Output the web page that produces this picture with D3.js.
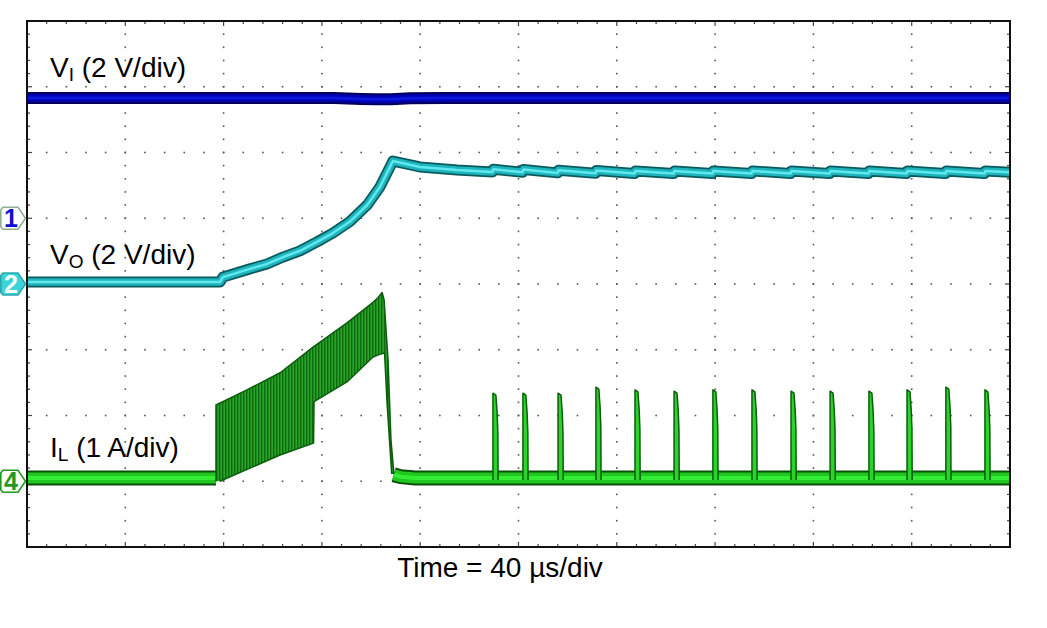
<!DOCTYPE html>
<html>
<head>
<meta charset="utf-8">
<script src="https://cdn.jsdelivr.net/npm/d3@7"></script>
<style>
  html, body { margin: 0; padding: 0; background: #fff; }
  svg { display: block; font-family: "Liberation Sans", Arial, sans-serif; }
</style>
</head>
<body>
<svg id="chart" width="1047" height="628"></svg>
<script>
// ---------------- DATA ----------------
// time axis (µs), 40 µs/div, 10 divisions
const timeMajorTicks = [0, 40, 80, 120, 160, 200, 240, 280, 320, 360, 400];
const divMajorTicks = [0, 1, 2, 3, 4, 5, 6, 7, 8];

// Channel 1: V_I (V), 2 V/div, ground at division 5
const viSeries = [[0, 3.66], [125, 3.66], [136, 3.63], [142, 3.62], [148, 3.62], [156, 3.65], [170, 3.66], [400, 3.66]];

// Channel 2: V_O (V), 2 V/div, ground at division 4
const voSeries = [
  [0, 0.06], [78.5, 0.06], [79.8, 0.21], [90.7, 0.46], [97.7, 0.61], [104.2, 0.82],
  [111.1, 1.01], [118.0, 1.28], [124.5, 1.55], [131.4, 1.90], [138.4, 2.40],
  [143.6, 2.95], [147.7, 3.56], [148.9, 3.74], [159.9, 3.56], [175, 3.47],
  [189.4, 3.41], [189.8, 3.49], [201.6, 3.40], [202.0, 3.48], [215.9, 3.38], [216.3, 3.46],
  [231.3, 3.37], [231.7, 3.45], [247.2, 3.36], [247.6, 3.44], [263.1, 3.36], [263.5, 3.44],
  [278.9, 3.36], [279.3, 3.44], [294.8, 3.36], [295.2, 3.44], [310.7, 3.36], [311.1, 3.44],
  [326.6, 3.36], [327.0, 3.44], [342.4, 3.36], [342.8, 3.44], [357.9, 3.36], [358.3, 3.44],
  [373.7, 3.36], [374.1, 3.44], [389.6, 3.36], [390.0, 3.44], [400, 3.40]
];

// Channel 4: I_L (A), 1 A/div, ground at division 1
const ilBaseBefore = [[0, 0.05], [76.9, 0.05]];
const ilBaseAfter = [[149.2, 0.10], [152, 0.07], [158, 0.05], [400, 0.05]];
// switching envelope (upper edge left->right)
const ilUpper = [[76.9, 0.0], [76.9, 1.16], [89.5, 1.39], [103.0, 1.65], [116.4, 2.04], [130.2, 2.41],
  [140.8, 2.72], [142.8, 2.79], [144.5, 2.87], [145.3, 2.76], [146.9, 1.85], [148.1, 0.63], [149.3, 0.12]];
// switching envelope (lower edge right->left)
const ilLower = [[148.4, 0.12], [146.5, 1.20], [145.5, 1.95], [143.5, 1.93], [140.8, 1.89], [130.2, 1.51],
  [116.8, 1.21], [116.6, 0.58], [103.0, 0.40], [78.5, 0.0]];
// periodic inductor-current pulses after start-up: start time (µs), peak (A)
const ilPulseTimes = [189.6, 201.8, 216.1, 231.5, 247.4, 263.3, 279.1, 295.0, 310.9, 326.8, 342.6, 358.1, 373.9, 389.8];
const ilPulsePeaks = [1.34, 1.34, 1.34, 1.43, 1.39, 1.37, 1.39, 1.39, 1.37, 1.37, 1.37, 1.39, 1.43, 1.39];

// texts
const traceLabels = [
  { main: "V", sub: "I", rest: " (2 V/div)", ch: 1, val: 4.3 },
  { main: "V", sub: "O", rest: " (2 V/div)", ch: 2, val: 0.61 },
  { main: "I", sub: "L", rest: " (1 A/div)", ch: 4, val: 0.37 }
];
const xAxisTitle = "Time = 40 µs/div";
const channelMarkers = [{ ch: 1, label: "1" }, { ch: 2, label: "2" }, { ch: 4, label: "4" }];

// ---------------- LAYOUT ----------------
const plot = { left: 27, right: 1010, top: 21, bottom: 547 };
const svg = d3.select("#chart");

const x = d3.scaleLinear().domain([0, 400]).range([plot.left, plot.right]);
const yDiv = d3.scaleLinear().domain([0, 8]).range([plot.bottom, plot.top]);
// channel scales (value -> px)
const yCh = {
  1: d3.scaleLinear().domain([-10, 6]).range([plot.bottom, plot.top]),
  2: d3.scaleLinear().domain([-8, 8]).range([plot.bottom, plot.top]),
  4: d3.scaleLinear().domain([-1, 7]).range([plot.bottom, plot.top])
};

// ---------------- GRID ----------------
const grid = svg.append("g");
const minorX = d3.range(0, 400.001, 8);
const minorY = d3.range(0, 8.001, 0.2);
const dotColor = "#555";
timeMajorTicks.slice(1, -1).forEach(t => {
  grid.selectAll(null).data(minorY.slice(1, -1)).enter().append("rect")
    .attr("x", x(t) - 0.8).attr("y", d => yDiv(d) - 0.8)
    .attr("width", 1.6).attr("height", 1.6).attr("fill", dotColor);
});
divMajorTicks.slice(1, -1).forEach(dv => {
  grid.selectAll(null).data(minorX.slice(1, -1)).enter().append("rect")
    .attr("x", d => x(d) - 0.8).attr("y", yDiv(dv) - 0.8)
    .attr("width", 1.6).attr("height", 1.6).attr("fill", dotColor);
});
const isMajorX = d => Math.abs(d / 40 - Math.round(d / 40)) < 1e-6;
const isMajorY = d => Math.abs(d - Math.round(d)) < 1e-6;
grid.selectAll(null).data(minorX.slice(1, -1)).enter().append("line")
  .attr("x1", d => x(d)).attr("x2", d => x(d))
  .attr("y1", plot.top).attr("y2", d => plot.top + (isMajorX(d) ? 5 : 3))
  .attr("stroke", "#444").attr("stroke-width", 1.2);
grid.selectAll(null).data(minorX.slice(1, -1)).enter().append("line")
  .attr("x1", d => x(d)).attr("x2", d => x(d))
  .attr("y1", plot.bottom).attr("y2", d => plot.bottom - (isMajorX(d) ? 5 : 3))
  .attr("stroke", "#444").attr("stroke-width", 1.2);
grid.selectAll(null).data(minorY.slice(1, -1)).enter().append("line")
  .attr("y1", d => yDiv(d)).attr("y2", d => yDiv(d))
  .attr("x1", plot.left).attr("x2", d => plot.left + (isMajorY(d) ? 5 : 3))
  .attr("stroke", "#444").attr("stroke-width", 1.2);
grid.selectAll(null).data(minorY.slice(1, -1)).enter().append("line")
  .attr("y1", d => yDiv(d)).attr("y2", d => yDiv(d))
  .attr("x1", plot.right).attr("x2", d => plot.right - (isMajorY(d) ? 5 : 3))
  .attr("stroke", "#444").attr("stroke-width", 1.2);

// ---------------- TRACES ----------------
const defs = svg.append("defs");
const pat = defs.append("pattern").attr("id", "ripple").attr("patternUnits", "userSpaceOnUse")
  .attr("width", 3).attr("height", 10);
pat.append("rect").attr("width", 3).attr("height", 10).attr("fill", "#1a8e1a");
pat.append("rect").attr("x", 0).attr("width", 1).attr("height", 10).attr("fill", "#0f6a0f");
pat.append("rect").attr("x", 2).attr("width", 0.6).attr("height", 10).attr("fill", "#35b035");

const clip = defs.append("clipPath").attr("id", "plotclip");
clip.append("rect").attr("x", plot.left).attr("y", plot.top)
  .attr("width", plot.right - plot.left).attr("height", plot.bottom - plot.top);

const traces = svg.append("g").attr("clip-path", "url(#plotclip)");

function lineFor(ch) {
  return d3.line().x(d => x(d[0])).y(d => yCh[ch](d[1]));
}
function band(data, ch, layers) {
  const gen = lineFor(ch);
  layers.forEach(([color, w]) => {
    traces.append("path").datum(data).attr("d", gen)
      .attr("fill", "none").attr("stroke", color).attr("stroke-width", w)
      .attr("stroke-linejoin", "round").attr("stroke-linecap", "butt");
  });
}

// V_I
band(viSeries, 1, [["#000058", 12], ["#0000b0", 8], ["#0a16dc", 3]]);
// V_O
band(voSeries, 2, [["#0b5a5e", 11], ["#1fb3bb", 7.5], ["#5fe9ef", 2.5]]);

// I_L baseline
const ilLayers = [["#0a4f0a", 15], ["#1fc71f", 11], ["#34ec34", 4]];
band(ilBaseBefore, 4, ilLayers);
band(ilBaseAfter, 4, ilLayers);

// I_L switching region
traces.append("path").datum(ilUpper.concat(ilLower))
  .attr("d", d3.line().x(d => x(d[0])).y(d => yCh[4](d[1])))
  .attr("fill", "url(#ripple)").attr("stroke", "#0c5c0c").attr("stroke-width", 1.5)
  .attr("stroke-linejoin", "round");

// I_L pulses
const pulses = ilPulseTimes.map((t, i) => [
  [t, 0.02], [t, ilPulsePeaks[i]], [t + 1.2, ilPulsePeaks[i] - 0.03],
  [t + 1.7, ilPulsePeaks[i] - 0.3], [t + 2.0, ilPulsePeaks[i] - 0.6], [t + 2.1, 0.02]
]);
traces.selectAll(null).data(pulses).enter().append("path")
  .attr("d", d3.line().x(d => x(d[0])).y(d => yCh[4](d[1])))
  .attr("fill", "#2ad42a").attr("stroke", "#0b5e0b").attr("stroke-width", 1.5)
  .attr("stroke-linejoin", "round");

// ---------------- FRAME ----------------
svg.append("rect").attr("x", plot.left).attr("y", plot.top)
  .attr("width", plot.right - plot.left).attr("height", plot.bottom - plot.top)
  .attr("fill", "none").attr("stroke", "#111").attr("stroke-width", 2);

// ---------------- LABELS ----------------
traceLabels.forEach(l => {
  const t = svg.append("text").attr("x", 50).attr("y", yCh[l.ch](l.val))
    .attr("font-size", 28).attr("fill", "#000");
  t.append("tspan").text(l.main);
  t.append("tspan").attr("font-size", 19).attr("dy", 4).text(l.sub);
  t.append("tspan").attr("dy", -4).text(l.rest);
});

svg.append("text").attr("x", 500).attr("y", 577).attr("text-anchor", "middle")
  .attr("font-size", 28).attr("fill", "#000").text(xAxisTitle);

// channel ground markers
const markerStyle = {
  1: { fill: "#fff", stroke: "#8fb08f", text: "#1010d0" },
  2: { fill: "#3cd4d8", stroke: "#2aa8ac", text: "#fff" },
  4: { fill: "#fff", stroke: "#1e9a1e", text: "#1e9a1e" }
};
channelMarkers.forEach(m => {
  const yc = yCh[m.ch](0);
  const s = markerStyle[m.ch];
  const pts = [[3, yc - 11], [18, yc - 11], [25.5, yc], [18, yc + 11], [3, yc + 11], [0.8, yc + 8.5], [0.8, yc - 8.5]];
  svg.append("path").attr("d", d3.line()(pts) + "Z")
    .attr("fill", s.fill).attr("stroke", s.stroke).attr("stroke-width", 1.6);
  svg.append("text").attr("x", 11).attr("y", yc + 9).attr("text-anchor", "middle")
    .attr("font-size", 25).attr("font-weight", "bold").attr("fill", s.text).text(m.label);
});
</script>
</body>
</html>
